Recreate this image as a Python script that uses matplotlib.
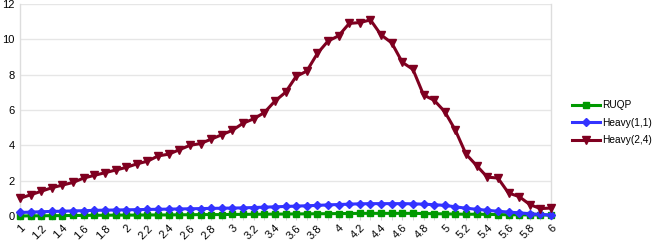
import numpy as np
import matplotlib
matplotlib.use("Agg")
import matplotlib.pyplot as plt

x_vals = [round(1 + 0.1 * i, 1) for i in range(51)]

ruqp = [0.00, 0.01, 0.01, 0.02, 0.02, 0.03, 0.03, 0.04, 0.04, 0.05,
        0.05, 0.05, 0.06, 0.06, 0.06, 0.07, 0.07, 0.08, 0.08, 0.08,
        0.09, 0.09, 0.10, 0.10, 0.11, 0.11, 0.12, 0.12, 0.13, 0.13,
        0.14, 0.14, 0.15, 0.15, 0.15, 0.15, 0.15, 0.15, 0.14, 0.13,
        0.12, 0.11, 0.10, 0.10, 0.09, 0.08, 0.07, 0.07, 0.06, 0.06, 0.05]

heavy11 = [0.20, 0.22, 0.24, 0.26, 0.27, 0.29, 0.30, 0.32, 0.33, 0.34,
           0.35, 0.36, 0.37, 0.38, 0.39, 0.40, 0.41, 0.42, 0.43, 0.44,
           0.45, 0.46, 0.48, 0.50, 0.52, 0.54, 0.56, 0.58, 0.60, 0.63,
           0.65, 0.67, 0.69, 0.70, 0.70, 0.70, 0.70, 0.69, 0.67, 0.64,
           0.60, 0.52, 0.44, 0.38, 0.32, 0.27, 0.22, 0.18, 0.13, 0.09, 0.06]

heavy24 = [1.0, 1.2, 1.4, 1.6, 1.75, 1.9, 2.15, 2.3, 2.45, 2.6,
           2.75, 2.95, 3.1, 3.4, 3.5, 3.75, 4.0, 4.1, 4.35, 4.6,
           4.85, 5.25, 5.5, 5.85, 6.5, 7.0, 7.9, 8.2, 9.2, 9.9,
           10.2, 10.9, 10.95, 11.1, 10.25, 9.8, 8.7, 8.3, 6.85, 6.55,
           5.9, 4.85, 3.5, 2.85, 2.2, 2.15, 1.3, 1.1, 0.65, 0.42, 0.45]

series_names = ["RUQP", "Heavy(1,1)", "Heavy(2,4)"]
tick_vals = [round(1 + 0.2 * i, 1) for i in range(26)]
tick_labels = [("%g" % t) for t in tick_vals]

plt.rcParams['font.family'] = ['Liberation Sans', 'DejaVu Sans']

fig = plt.figure(figsize=(6.54, 2.45), dpi=100)
ax = fig.add_axes([20 / 654, 29 / 245, 531 / 654, 212 / 245])

c_green = "#009900"
c_blue = "#3333ff"
c_red = "#7f0020"

ax.plot(x_vals, ruqp, color=c_green, marker="s", markersize=5, linewidth=2.2,
        label=series_names[0], zorder=3, clip_on=False)
ax.plot(x_vals, heavy11, color=c_blue, marker="D", markersize=4.5, linewidth=2.2,
        label=series_names[1], zorder=4, clip_on=False)
ax.plot(x_vals, heavy24, color=c_red, marker="v", markersize=6, linewidth=2.2,
        label=series_names[2], zorder=5, clip_on=False)

ax.set_xlim(1, 6)
ax.set_ylim(0, 12)
ax.set_yticks(np.arange(0, 13, 2))
ax.set_xticks(tick_vals)
ax.set_xticklabels(tick_labels, rotation=45, ha="right", rotation_mode="anchor",
                   fontsize=8)
ax.set_xticks(x_vals, minor=True)
ax.tick_params(axis="y", length=0, labelsize=8, pad=4)
ax.tick_params(axis="x", which="both", length=3, color="#d0d0d0", pad=2)
ax.grid(axis="y", color="#e6e6e6", linewidth=1)
ax.set_axisbelow(True)
for s in ["top", "bottom"]:
    ax.spines[s].set_visible(False)
for s in ["left", "right"]:
    ax.spines[s].set_color("#dddddd")
    ax.spines[s].set_linewidth(1)

leg = fig.legend(loc="upper left", bbox_to_anchor=(568 / 654, 1 - 96 / 245),
                 frameon=False, fontsize=7.3, handlelength=2.8, handletextpad=0.15,
                 labelspacing=0.75, borderaxespad=0)

fig.savefig("out.png", dpi=100)
